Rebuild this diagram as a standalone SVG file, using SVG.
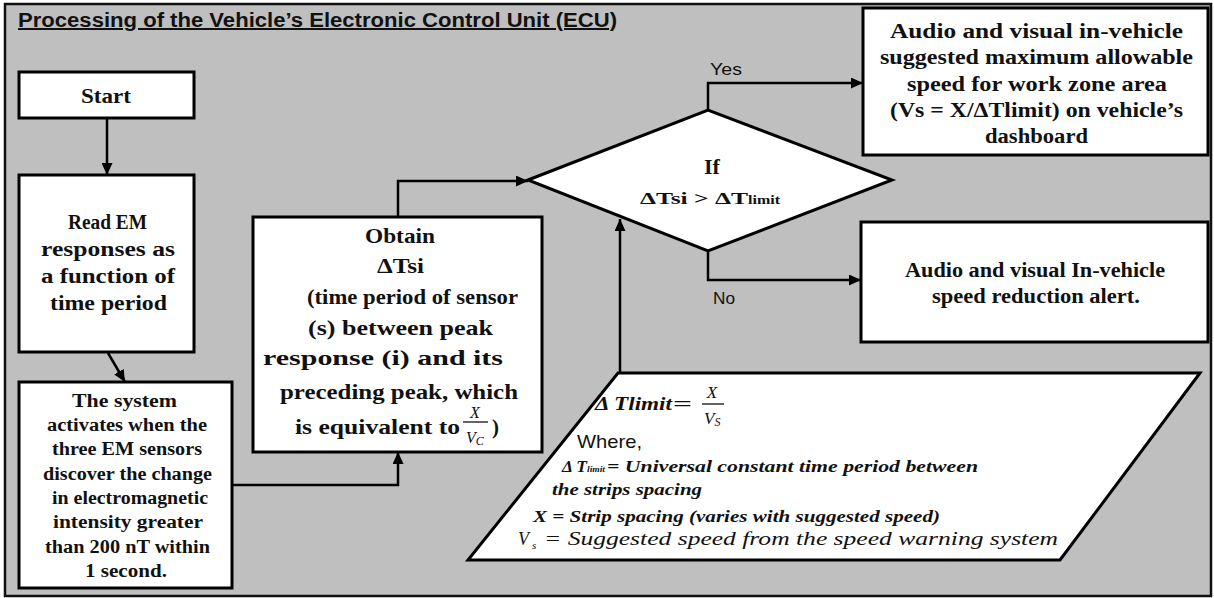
<svg xmlns="http://www.w3.org/2000/svg" width="1214" height="598" viewBox="0 0 1214 598">
<defs>
<style>
.bg{fill:#bfbfbf;stroke:#111;stroke-width:2.5}
.box{fill:#fff;stroke:#000;stroke-width:3}
.con{fill:none;stroke:#000;stroke-width:2.5}
.b{font-family:"Liberation Serif","Times New Roman",serif;font-weight:bold;fill:#111}
.bi{font-family:"Liberation Serif","Times New Roman",serif;font-weight:bold;font-style:italic;fill:#111}
.i{font-family:"Liberation Serif","Times New Roman",serif;font-style:italic;fill:#111}
.s{font-family:"Liberation Sans",Arial,sans-serif;fill:#111}
</style>
<marker id="arr" markerUnits="userSpaceOnUse" markerWidth="13" markerHeight="11" refX="12" refY="5.5" orient="auto">
<path d="M0,0 L12,5.5 L0,11 z" fill="#000"/>
</marker>
</defs>
<rect class="bg" x="5" y="4" width="1206" height="592"/>
<text class="s" x="18" y="27" font-size="20" font-weight="bold" textLength="599" lengthAdjust="spacingAndGlyphs" text-decoration="underline">Processing of the Vehicle’s Electronic Control Unit (ECU)</text>

<g id="connectors">
<line class="con" x1="107" y1="118" x2="107" y2="175" marker-end="url(#arr)"/>
<line class="con" x1="108" y1="353" x2="125" y2="382" marker-end="url(#arr)"/>
<polyline class="con" points="232,485 398,485 398,452" marker-end="url(#arr)"/>
<polyline class="con" points="398,217 398,181 528,181" marker-end="url(#arr)"/>
<polyline class="con" points="708,110 708,83 863,83" marker-end="url(#arr)"/>
<polyline class="con" points="708,251 708,280 861,280" marker-end="url(#arr)"/>
<line class="con" x1="620" y1="373" x2="620" y2="219" marker-end="url(#arr)"/>
<text class="s" x="710" y="75" font-size="17" textLength="32" lengthAdjust="spacingAndGlyphs">Yes</text>
<text class="s" x="713" y="304" font-size="17" textLength="22" lengthAdjust="spacingAndGlyphs">No</text>
</g>

<g id="start">
<rect class="box" x="19" y="72" width="175" height="46"/>
<text class="b" x="81" y="103" font-size="22" textLength="50" lengthAdjust="spacingAndGlyphs">Start</text>
</g>

<g id="read">
<rect class="box" x="19" y="175" width="175" height="177"/>
<text class="b" x="68" y="229" font-size="20" textLength="79" lengthAdjust="spacingAndGlyphs">Read EM</text>
<text class="b" x="41" y="256" font-size="20" textLength="134" lengthAdjust="spacingAndGlyphs">responses as</text>
<text class="b" x="41" y="283" font-size="20" textLength="134" lengthAdjust="spacingAndGlyphs">a function of</text>
<text class="b" x="50" y="310" font-size="20" textLength="117" lengthAdjust="spacingAndGlyphs">time period</text>
</g>

<g id="system">
<rect class="box" x="19" y="382" width="213" height="206"/>
<text class="b" x="72" y="407" font-size="18" textLength="105" lengthAdjust="spacingAndGlyphs">The system</text>
<text class="b" x="47" y="431" font-size="18" textLength="160" lengthAdjust="spacingAndGlyphs">activates when the</text>
<text class="b" x="52" y="455" font-size="18" textLength="150" lengthAdjust="spacingAndGlyphs">three EM sensors</text>
<text class="b" x="43" y="480" font-size="18" textLength="169" lengthAdjust="spacingAndGlyphs">discover the change</text>
<text class="b" x="52" y="504" font-size="18" textLength="156" lengthAdjust="spacingAndGlyphs">in electromagnetic</text>
<text class="b" x="53" y="528" font-size="18" textLength="150" lengthAdjust="spacingAndGlyphs">intensity greater</text>
<text class="b" x="45" y="553" font-size="18" textLength="165" lengthAdjust="spacingAndGlyphs">than 200 nT within</text>
<text class="b" x="85" y="577" font-size="18" textLength="82" lengthAdjust="spacingAndGlyphs">1 second.</text>
</g>

<g id="obtain">
<rect class="box" x="253" y="217" width="289" height="235"/>
<text class="b" x="365" y="243" font-size="21" textLength="70" lengthAdjust="spacingAndGlyphs">Obtain</text>
<text class="b" x="377" y="273" font-size="21" textLength="47" lengthAdjust="spacingAndGlyphs">ΔTsi</text>
<text class="b" x="307" y="304" font-size="21" textLength="211" lengthAdjust="spacingAndGlyphs">(time period of sensor</text>
<text class="b" x="308" y="335" font-size="21" textLength="185" lengthAdjust="spacingAndGlyphs">(s) between peak</text>
<text class="b" x="263" y="365" font-size="21" textLength="240" lengthAdjust="spacingAndGlyphs">response (i) and its</text>
<text class="b" x="280" y="399" font-size="21" textLength="238" lengthAdjust="spacingAndGlyphs">preceding peak, which</text>
<text class="b" x="295" y="434" font-size="21" textLength="165" lengthAdjust="spacingAndGlyphs">is equivalent to</text>
<text class="i" x="475" y="418" font-size="16" text-anchor="middle">X</text>
<line x1="463" y1="422" x2="488" y2="422" stroke="#111" stroke-width="1.3"/>
<text class="i" x="466" y="443" font-size="16">V<tspan font-size="12" dy="2">C</tspan></text>
<text class="b" x="492" y="434" font-size="21">)</text>
</g>

<g id="decision">
<polygon class="box" points="528,180 708,110 892,180 708,251" stroke-width="2.5"/>
<text class="b" x="712" y="174" font-size="22" text-anchor="middle">If</text>
<text class="b" x="640" y="204" font-size="17" textLength="108" lengthAdjust="spacingAndGlyphs">ΔTsi &gt; ΔT</text>
<text class="b" x="748" y="204" font-size="12" textLength="32" lengthAdjust="spacingAndGlyphs">limit</text>
</g>

<g id="yes-box">
<rect class="box" x="863" y="8" width="345" height="147"/>
<text class="b" x="890" y="38" font-size="20" textLength="293" lengthAdjust="spacingAndGlyphs">Audio and visual in-vehicle</text>
<text class="b" x="880" y="64" font-size="20" textLength="313" lengthAdjust="spacingAndGlyphs">suggested maximum allowable</text>
<text class="b" x="907" y="91" font-size="20" textLength="260" lengthAdjust="spacingAndGlyphs">speed for work zone area</text>
<text class="b" x="890" y="117" font-size="20" textLength="293" lengthAdjust="spacingAndGlyphs">(Vs = X/ΔTlimit) on vehicle’s</text>
<text class="b" x="985" y="143" font-size="20" textLength="103" lengthAdjust="spacingAndGlyphs">dashboard</text>
</g>

<g id="no-box">
<rect class="box" x="861" y="222" width="347" height="120"/>
<text class="b" x="905" y="277" font-size="20" textLength="260" lengthAdjust="spacingAndGlyphs">Audio and visual In-vehicle</text>
<text class="b" x="932" y="303" font-size="20" textLength="208" lengthAdjust="spacingAndGlyphs">speed reduction alert.</text>
</g>

<g id="limit-input">
<polygon class="box" points="618,373 1200,373 1060,560 468,560" stroke-width="2.5"/>
<text class="bi" x="595" y="410" font-size="19" textLength="77" lengthAdjust="spacingAndGlyphs">Δ Tlimit</text>
<text class="b" x="673" y="410" font-size="19" textLength="19" lengthAdjust="spacingAndGlyphs">=</text>
<text class="i" x="712" y="398" font-size="17" text-anchor="middle">X</text>
<line x1="702" y1="404" x2="724" y2="404" stroke="#111" stroke-width="1.3"/>
<text class="i" x="704" y="424" font-size="17">V<tspan font-size="12" dy="2">S</tspan></text>
<text class="s" x="577" y="448" font-size="19" textLength="65" lengthAdjust="spacingAndGlyphs">Where,</text>
<text class="bi" x="562" y="472" font-size="17" textLength="25" lengthAdjust="spacingAndGlyphs">Δ T</text>
<text class="bi" x="587" y="472" font-size="9" textLength="18" lengthAdjust="spacingAndGlyphs">limit</text>
<text class="bi" x="607" y="472" font-size="17" textLength="371" lengthAdjust="spacingAndGlyphs">= Universal constant time period between</text>
<text class="bi" x="552" y="495" font-size="17" textLength="150" lengthAdjust="spacingAndGlyphs">the strips spacing</text>
<text class="bi" x="533" y="522" font-size="17" textLength="407" lengthAdjust="spacingAndGlyphs">X = Strip spacing (varies with suggested speed)</text>
<text class="i" x="518" y="545" font-size="18">V</text>
<text class="i" x="532" y="549" font-size="11">s</text>
<text class="i" x="544" y="545" font-size="18" textLength="514" lengthAdjust="spacingAndGlyphs">= Suggested speed from the speed warning system</text>
</g>
</svg>
